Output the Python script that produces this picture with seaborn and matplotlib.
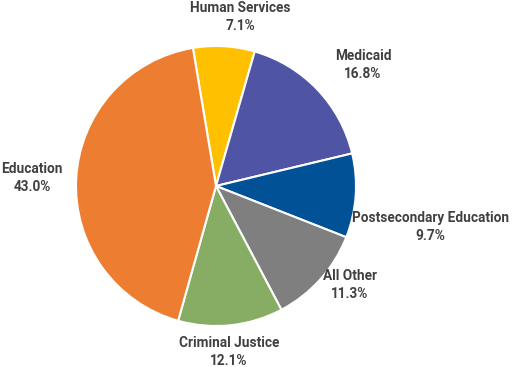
import matplotlib
matplotlib.use("Agg")
import matplotlib.pyplot as plt
import seaborn as sns

# slices in clockwise order from the top
categories = ["Human Services", "Medicaid", "Postsecondary Education",
              "All Other", "Criminal Justice", "Education"]
shares = [7.1, 16.8, 9.7, 11.3, 12.1, 43.0]
colors = ["#FFC000", "#5054A4", "#005195", "#7F7F7F", "#87AD64", "#ED7D31"]

# label anchor points in pixels (x, y from top)
label_pos = [(240, 17), (363, 65), (430, 227), (350, 285), (229, 352), (32, 178)]

sns.set_theme(style="white")
plt.rcParams["font.family"] = ["Roboto", "DejaVu Sans"]

fig = plt.figure(figsize=(5.14, 3.67), dpi=100)
ax = fig.add_axes([0, 0, 1, 1])

ax.pie(shares, colors=colors, startangle=99.5, counterclock=False,
       center=(216, 367 - 186), radius=140, frame=True,
       wedgeprops=dict(edgecolor="white", linewidth=1.5))
ax.set_xlim(0, 514)
ax.set_ylim(0, 367)
ax.set_aspect("equal")
ax.axis("off")

for name, val, (x, y) in zip(categories, shares, label_pos):
    ax.text(x, 367 - y, f"{name}\n{val:.1f}%", ha="center", va="center",
            fontsize=9.8, fontweight="bold", color="#404040", linespacing=1.35)

fig.savefig("out.png", dpi=100)
